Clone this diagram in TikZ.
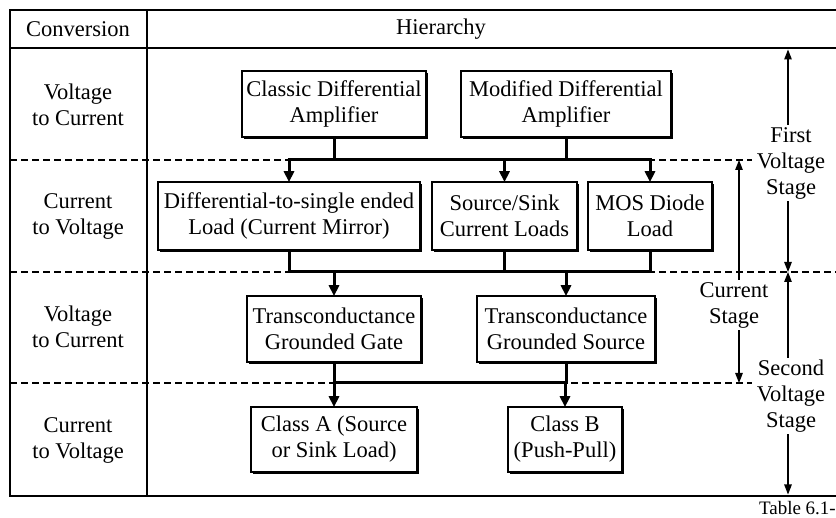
\documentclass[tikz,border=0pt]{standalone}
\usepackage{fontspec}
\setmainfont{Liberation Serif}
\usetikzlibrary{arrows.meta,shadows}
\begin{document}
\begin{tikzpicture}[x=1pt,y=-1pt,
  txt/.style={font=\fontsize{22.5}{26}\selectfont, align=center, inner sep=1pt},
  box/.style={txt, draw, line width=1.6pt, fill=white, inner sep=0pt,
     general shadow={fill=black, shadow xshift=2.4pt, shadow yshift=-2.4pt}},
  frame/.style={line width=2.4pt},
  conn/.style={line width=3pt},
  arr/.style={conn, -{Triangle[width=10pt,length=11pt]}, shorten >=-1pt},
  sep/.style={line width=1.2pt, dash pattern=on 7pt off 4pt},
  dim/.style={line width=1.3pt, {Triangle[width=7.5pt,length=10pt]}-{Triangle[width=7.5pt,length=10pt]}},
  lbl/.style={txt, fill=white, inner sep=2pt}
]
\useasboundingbox (0,0) rectangle (836,518);

% dashed row separators
\draw[sep] (10,160) -- (752,160);
\draw[sep] (10,272) -- (836,272);
\draw[sep] (10,383) -- (752,383);

% frame
\draw[frame] (836,10) -- (10,10) -- (10,496) -- (836,496);
\draw[frame] (10,48) -- (836,48);
\draw[frame] (147,10) -- (147,496);

% headers
\node[txt] (hconv) at (78,29) {Conversion};
\node[txt] (hhier) at (441,29) {Hierarchy};

% left column
\node[txt] (r1) at (78,105) {Voltage\\to Current};
\node[txt] (r2) at (78,216) {Current\\to Voltage};
\node[txt] (r3) at (78,327) {Voltage\\to Current};
\node[txt] (r4) at (78,440) {Current\\to Voltage};

% boxes
\node[box, minimum width=184pt, minimum height=66pt] (cda) at (334,104) {Classic Differential\\Amplifier};
\node[box, minimum width=210pt, minimum height=66pt] (mda) at (566,104) {Modified Differential\\Amplifier};
\node[box, minimum width=262pt, minimum height=68pt] (dts) at (289,216) {Differential-to-single ended\\Load (Current Mirror)};
\node[box, minimum width=145pt, minimum height=68pt] (ssc) at (504.5,216) {Source/Sink\\Current Loads};
\node[box, minimum width=124pt, minimum height=68pt] (mos) at (650,216) {MOS Diode\\Load};
\node[box, minimum width=174pt, minimum height=66pt] (tgg) at (334,329) {Transconductance\\Grounded Gate};
\node[box, minimum width=178pt, minimum height=66pt] (tgs) at (566,329) {Transconductance\\Grounded Source};
\node[box, minimum width=166pt, minimum height=65pt] (cla) at (334,439.5) {Class A (Source\\or Sink Load)};
\node[box, minimum width=114pt, minimum height=65pt] (clb) at (565,439.5) {Class B\\(Push-Pull)};

\coordinate (bus1) at (0,160);
\coordinate (bus2) at (0,272);
\coordinate (bus3) at (0,383);

% first level connectors
\draw[conn] (cda.south) -- (cda.south |- bus1);
\draw[conn] (mda.south) -- (mda.south |- bus1);
\draw[conn] ([xshift=-1.5pt]dts.north |- bus1) -- ([xshift=1.5pt]mos.north |- bus1);
\draw[arr] (dts.north |- bus1) -- (dts.north);
\draw[arr] (ssc.north |- bus1) -- (ssc.north);
\draw[arr] (mos.north |- bus1) -- (mos.north);

% second level connectors
\draw[conn] (dts.south) -- (dts.south |- bus2);
\draw[conn] (ssc.south) -- (ssc.south |- bus2);
\draw[conn] (mos.south) -- (mos.south |- bus2);
\draw[conn] ([xshift=-1.5pt]dts.south |- bus2) -- ([xshift=1.5pt]mos.south |- bus2);
\draw[arr] (tgg.north |- bus2) -- (tgg.north);
\draw[arr] (tgs.north |- bus2) -- (tgs.north);

% third level connectors
\draw[conn] (tgg.south) -- (tgg.south |- bus3);
\draw[conn] (tgs.south) -- (tgs.south |- bus3);
\draw[conn] ([xshift=-1.5pt]tgg.south |- bus3) -- ([xshift=1.5pt]tgs.south |- bus3);
\draw[arr] (cla.north |- bus3) -- (cla.north);
\draw[arr] (clb.north |- bus3) -- (clb.north);

% stage dimension arrows
\coordinate (fvt) at (788,49.5);
\coordinate (fvb) at (788,272);
\coordinate (cst) at (739,160);
\coordinate (csb) at (739,383);
\coordinate (svt) at (788,272);
\coordinate (svb) at (788,494.5);
\draw[dim] (fvt) -- (fvb);
\draw[dim] (cst) -- (csb);
\draw[dim] (svt) -- (svb);
\node[lbl] (fvs) at (791,163) {First\\Voltage\\Stage};
\node[lbl] (css) at (734,305) {Current\\Stage};
\node[lbl] (svs) at (791,396) {Second\\Voltage\\Stage};

\node[txt, font=\fontsize{19}{22}\selectfont, anchor=east, inner sep=0pt] (cap) at (836,508) {Table 6.1-};
\end{tikzpicture}
\end{document}
